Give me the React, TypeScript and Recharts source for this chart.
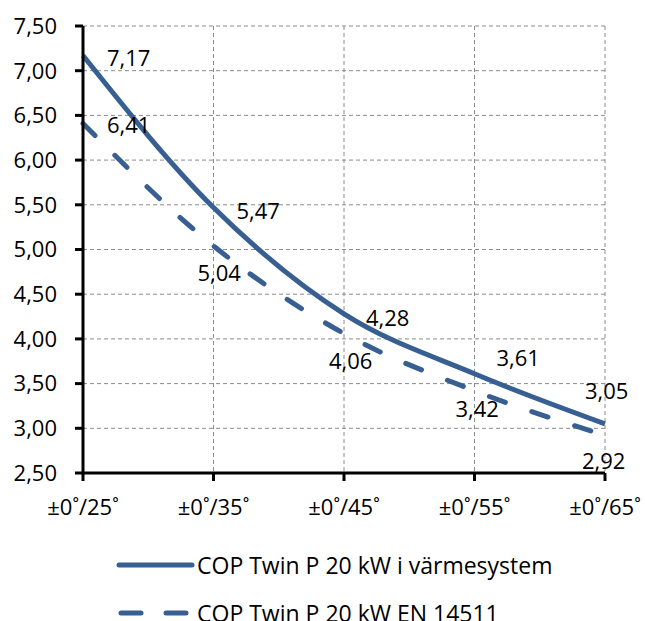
import React from "react";
import { LineChart, Line, XAxis, YAxis, CartesianGrid } from "recharts";

const categories = ["±0˚/25˚", "±0˚/35˚", "±0˚/45˚", "±0˚/55˚", "±0˚/65˚"];
const copSystem = [7.17, 5.47, 4.28, 3.61, 3.05];
const copEN = [6.41, 5.04, 4.06, 3.42, 2.92];
const yTicks = [2.5, 3, 3.5, 4, 4.5, 5, 5.5, 6, 6.5, 7, 7.5];
const seriesNames = ["COP Twin P 20 kW i värmesystem", "COP Twin P 20 kW EN 14511"];

// label placement (layout only)
const offSystem = [[24, 1], [23, 3], [22, 3], [22, -17], [-20, -34]];
const offEN = [[24, 1], [-16, 26], [-15, 26], [-19, 17], [-23, 25]];

const data = categories.map((c, i) => ({ cat: c, a: copSystem[i], b: copEN[i] }));

const COLOR = "#385f91";
const FONT = "'Open Sans', sans-serif";
const FS = 22;
const fmt = (v: number) => v.toFixed(2).replace(".", ",");

const makeLabel = (offs: number[][]) => (props: any) => {
  const { x, y, value, index } = props;
  const [dx, dy] = offs[index] || [0, 0];
  return (
    <text x={x + dx} y={y + dy} textAnchor="start" dominantBaseline="central" fontFamily={FONT} fontSize={FS} fill="#000">
      {fmt(value)}
    </text>
  );
};

export default function App() {
  return (
    <div style={{ position: "absolute", left: 0, top: 0, width: 645, height: 621, background: "#fff" }}>
      <LineChart width={645} height={621} data={data} margin={{ top: 26, right: 40, bottom: 0, left: 0 }}>
        <CartesianGrid stroke="#8c8c8c" strokeDasharray="4 3" strokeWidth={1} />
        <XAxis
          dataKey="cat"
          height={148}
          stroke="#000"
          strokeWidth={3}
          tickSize={8}
          tickMargin={18}
          tick={{ fill: "#000", fontFamily: FONT, fontSize: FS }}
          interval={0}
        />
        <YAxis
          width={83}
          domain={[2.5, 7.5]}
          ticks={yTicks}
          tickFormatter={fmt}
          stroke="#000"
          strokeWidth={3}
          tickSize={8}
          tickMargin={18}
          tick={{ fill: "#000", fontFamily: FONT, fontSize: FS }}
          interval={0}
        />
        <Line
          dataKey="a"
          type="monotone"
          stroke={COLOR}
          strokeWidth={5}
          dot={false}
          isAnimationActive={false}
          label={makeLabel(offSystem)}
        />
        <Line
          dataKey="b"
          type="monotone"
          stroke={COLOR}
          strokeWidth={5}
          strokeDasharray="17 28"
          strokeLinecap="round"
          dot={false}
          isAnimationActive={false}
          label={makeLabel(offEN)}
        />
      </LineChart>
      <svg width={645} height={141} style={{ position: "absolute", left: 0, top: 480 }}>
        <line x1={119} y1={85} x2={192} y2={85} stroke={COLOR} strokeWidth={5} strokeLinecap="round" />
        <text x={197} y={85} dominantBaseline="central" fontFamily={FONT} fontSize={23} fill="#000">
          {seriesNames[0]}
        </text>
        <line x1={121} y1={133} x2={141} y2={133} stroke={COLOR} strokeWidth={5} strokeLinecap="round" />
        <line x1={166} y1={133} x2={186} y2={133} stroke={COLOR} strokeWidth={5} strokeLinecap="round" />
        <text x={197} y={133} dominantBaseline="central" fontFamily={FONT} fontSize={23} fill="#000">
          {seriesNames[1]}
        </text>
      </svg>
    </div>
  );
}
